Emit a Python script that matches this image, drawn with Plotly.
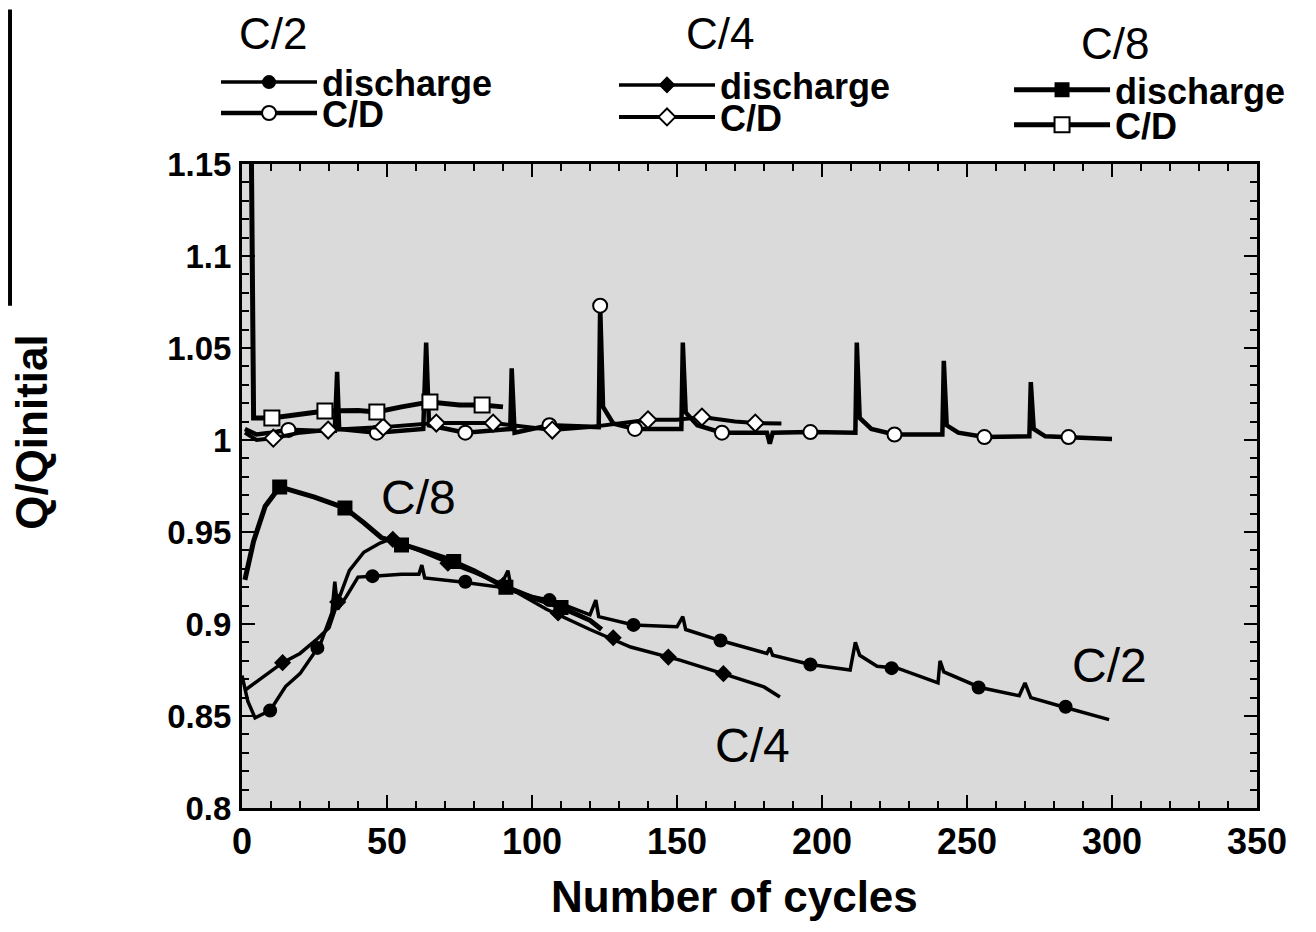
import plotly.graph_objects as go

# ---------------- data ----------------
# C/2 discharge
c2_dis_x = [0, 2, 4.5, 9.7, 15, 20, 27, 31, 32, 33, 36, 40, 45, 55, 61, 62, 63, 75, 89, 91.7, 93,
            100, 106, 110, 120, 122, 123, 135, 150, 152, 153, 165, 181, 182, 183, 196, 209.7,
            211.5, 213, 219, 226, 240, 240.7, 242, 254.5, 268, 270, 272, 283, 299]
c2_dis_y = [0.872, 0.858, 0.849, 0.853, 0.866, 0.873, 0.889, 0.906, 0.923, 0.908, 0.915, 0.9255,
            0.926, 0.927, 0.927, 0.932, 0.925, 0.923, 0.920, 0.929, 0.918, 0.915, 0.913, 0.911,
            0.905, 0.913, 0.904, 0.8995, 0.8985, 0.904, 0.897, 0.891, 0.884, 0.887, 0.883, 0.878,
            0.875, 0.890, 0.883, 0.877, 0.876, 0.868, 0.880, 0.874, 0.8655, 0.861, 0.868, 0.860,
            0.855, 0.848]
c2_dis_mx = [9.7, 26, 45, 77, 106, 135, 165, 196, 224, 254, 284]
c2_dis_my = [0.853, 0.887, 0.926, 0.923, 0.913, 0.8995, 0.891, 0.878, 0.876, 0.8655, 0.855]

# C/4 discharge
c4_dis_x = [1, 8, 14, 20, 26, 30, 33, 37, 42, 47.6, 51, 56, 61, 70, 80, 89, 95, 105, 120, 134,
            151, 165, 180, 185.5]
c4_dis_y = [0.864, 0.872, 0.879, 0.884, 0.892, 0.898, 0.912, 0.929, 0.939, 0.944, 0.946, 0.943,
            0.940, 0.934, 0.928, 0.922, 0.917, 0.908, 0.897, 0.8875, 0.8804, 0.8734, 0.8658, 0.8603]
c4_dis_mx = [14, 33, 52, 71, 90, 109, 128, 147, 166]
c4_dis_my = [0.879, 0.912, 0.946, 0.933, 0.921, 0.906, 0.8925, 0.882, 0.873]

# C/8 discharge
c8_dis_x = [1, 4, 8, 13, 25, 33, 35.5, 42, 48, 60, 70, 80, 89, 100, 110, 120, 124]
c8_dis_y = [0.924, 0.945, 0.964, 0.9745, 0.969, 0.9647, 0.963, 0.955, 0.947, 0.941, 0.936,
            0.929, 0.9215, 0.9145, 0.909, 0.902, 0.897]
c8_dis_mx = [13, 35.5, 55, 73, 91, 110]
c8_dis_my = [0.9745, 0.963, 0.943, 0.934, 0.920, 0.909]

# C/2 charge / discharge ratio
c2_cd_x = [1, 5, 10, 16, 25, 32, 32.8, 33.5, 46.5, 62.5, 63.5, 64.5, 77, 92.5, 93, 94, 106, 123,
           123.5, 124.5, 128, 135.5, 151.5, 152, 153, 157, 165.5, 181, 182, 183, 196, 211.5, 212,
           213, 217, 225, 241.5, 242, 243, 247, 256, 271.5, 272, 273, 277, 285, 300]
c2_cd_y = [1.006, 1.003, 1.004, 1.0055, 1.005, 1.005, 1.037, 1.006, 1.004, 1.006, 1.053, 1.008,
           1.004, 1.006, 1.039, 1.004, 1.008, 1.007, 1.073, 1.018, 1.009, 1.006, 1.006, 1.053,
           1.015, 1.008, 1.004, 1.004, 0.998, 1.004, 1.0043, 1.004, 1.053, 1.012, 1.006, 1.003,
           1.003, 1.043, 1.008, 1.004, 1.0016, 1.002, 1.0315, 1.006, 1.002, 1.0016, 1.0005]
c2_cd_mx = [16, 46.5, 77, 106, 123.5, 135.5, 165.5, 196, 225, 256, 285]
c2_cd_my = [1.0055, 1.004, 1.004, 1.008, 1.073, 1.006, 1.004, 1.0043, 1.003, 1.0016, 1.0016]

# C/4 charge / discharge ratio
c4_cd_x = [1, 5, 10.8, 20, 29.7, 48.7, 67, 86.6, 107, 120, 140, 150, 158.6, 170, 177, 186]
c4_cd_y = [1.004, 1.000, 1.001, 1.004, 1.0054, 1.007, 1.0092, 1.0092, 1.0054, 1.007, 1.011,
           1.011, 1.0125, 1.010, 1.0092, 1.009]
c4_cd_mx = [10.8, 29.7, 48.7, 67, 86.6, 107, 140, 158.6, 177]
c4_cd_my = [1.001, 1.0054, 1.007, 1.0092, 1.0092, 1.0054, 1.011, 1.0125, 1.0092]

# C/8 charge / discharge ratio
c8_cd_x = [3, 4, 10.3, 20, 28.6, 40, 46.5, 55, 64.8, 75, 82.8, 90]
c8_cd_y = [1.20, 1.012, 1.012, 1.014, 1.0158, 1.016, 1.0152, 1.018, 1.0207, 1.019, 1.019, 1.018]
c8_cd_mx = [10.3, 28.6, 46.5, 64.8, 82.8]
c8_cd_my = [1.012, 1.0158, 1.0152, 1.0207, 1.019]

x_ticks = [0, 50, 100, 150, 200, 250, 300, 350]
y_ticks = [0.8, 0.85, 0.9, 0.95, 1.0, 1.05, 1.1, 1.15]
y_tick_text = ["0.8", "0.85", "0.9", "0.95", "1", "1.05", "1.1", "1.15"]

rate_headers = ["C/2", "C/4", "C/8"]
entry_names = ["discharge", "C/D"]
x_title = "Number of cycles"
y_title = "Q/Qinitial"

# ---------------- figure ----------------
FONT = "Liberation Sans, Arial, sans-serif"
fig = go.Figure()


def add_series(lx, ly, mx, my, name, legend, width, symbol, size, filled):
    mk = dict(symbol=symbol, size=size, color="black" if filled else "white",
              line=dict(color="black", width=2))
    fig.add_trace(go.Scatter(x=lx, y=ly, mode="lines", line=dict(color="black", width=width),
                             showlegend=False, hoverinfo="skip"))
    fig.add_trace(go.Scatter(x=mx, y=my, mode="markers", marker=mk, showlegend=False,
                             hoverinfo="skip"))
    # legend proxy (line + marker)
    fig.add_trace(go.Scatter(x=[None], y=[None], mode="lines+markers", name=name, legend=legend,
                             line=dict(color="black", width=width), marker=mk))


add_series(c2_dis_x, c2_dis_y, c2_dis_mx, c2_dis_my, entry_names[0], "legend", 3.5, "circle", 12, True)
add_series(c2_cd_x, c2_cd_y, c2_cd_mx, c2_cd_my, entry_names[1], "legend2", 4.5, "circle", 14, False)
add_series(c4_dis_x, c4_dis_y, c4_dis_mx, c4_dis_my, entry_names[0], "legend3", 3.5, "diamond", 11, True)
add_series(c4_cd_x, c4_cd_y, c4_cd_mx, c4_cd_my, entry_names[1], "legend4", 4, "diamond", 13, False)
add_series(c8_dis_x, c8_dis_y, c8_dis_mx, c8_dis_my, entry_names[0], "legend5", 5, "square", 13, True)
add_series(c8_cd_x, c8_cd_y, c8_cd_mx, c8_cd_my, entry_names[1], "legend6", 5, "square", 15, False)


def leg(x, y):
    return dict(x=x, y=y, xanchor="left", yanchor="middle", bgcolor="rgba(0,0,0,0)",
                borderwidth=0, itemwidth=96, itemclick=False, itemdoubleclick=False,
                font=dict(family=FONT, size=36, color="black", weight="bold"))


fig.update_layout(
    width=1300, height=916,
    margin=dict(l=234, r=51, t=156, b=116),
    paper_bgcolor="white",
    plot_bgcolor="#dadada",
    showlegend=True,
    legend=leg(-0.0256, 1.127),
    legend2=leg(-0.0256, 1.079),
    legend3=leg(0.3665, 1.1227),
    legend4=leg(0.3665, 1.073),
    legend5=leg(0.7557, 1.115),
    legend6=leg(0.7557, 1.0606),
    xaxis=dict(range=[0, 350], tickvals=x_ticks, ticks="inside", ticklen=13, tickwidth=2,
               tickcolor="black", showline=True, linewidth=3, linecolor="black", mirror="allticks",
               showgrid=False, zeroline=False,
               minor=dict(dtick=10, ticks="inside", ticklen=7, tickwidth=2, tickcolor="black"),
               tickfont=dict(family=FONT, size=36, color="black", weight="bold"),
               ticklabelstandoff=0),
    yaxis=dict(range=[0.8, 1.15], tickvals=y_ticks, ticktext=y_tick_text, ticks="inside",
               ticklen=13, tickwidth=2, tickcolor="black", showline=True, linewidth=3,
               linecolor="black", mirror="allticks", showgrid=False, zeroline=False,
               minor=dict(dtick=0.01, ticks="inside", ticklen=7, tickwidth=2, tickcolor="black"),
               tickfont=dict(family=FONT, size=33, color="black", weight="bold"),
               ticklabelstandoff=1),
)

# axis titles (placed as in the reference, slightly off-centre)
fig.add_annotation(text=x_title, x=0.4857, y=-0.138, xref="paper", yref="paper",
                   showarrow=False, xanchor="center", yanchor="middle",
                   font=dict(family=FONT, size=44, color="black", weight="bold"))
fig.add_annotation(text=y_title, x=-0.207, y=0.584, xref="paper", yref="paper", textangle=-90,
                   showarrow=False, xanchor="center", yanchor="middle",
                   font=dict(family=FONT, size=44, color="black", weight="bold"))

# column headers above the legends
for txt, xp, yp in zip(rate_headers, [0.0305, 0.471, 0.860], [1.2019, 1.2019, 1.187]):
    fig.add_annotation(text=txt, x=xp, y=yp, xref="paper", yref="paper", showarrow=False,
                       xanchor="center", yanchor="middle",
                       font=dict(family=FONT, size=44, color="black"))

# in-plot curve labels
for txt, xd, yd in [("C/8", 60.7, 0.969), ("C/4", 176, 0.8342), ("C/2", 299, 0.8777)]:
    fig.add_annotation(text=txt, x=xd, y=yd, xref="x", yref="y", showarrow=False,
                       xanchor="center", yanchor="middle",
                       font=dict(family=FONT, size=48, color="black"))

# dark scan edge at far left of page
fig.add_shape(type="rect", xref="paper", yref="paper", x0=-0.2305, x1=-0.2266, y0=0.78, y1=1.24,
              fillcolor="black", line=dict(width=0), layer="above")

fig.write_html("out.html")
